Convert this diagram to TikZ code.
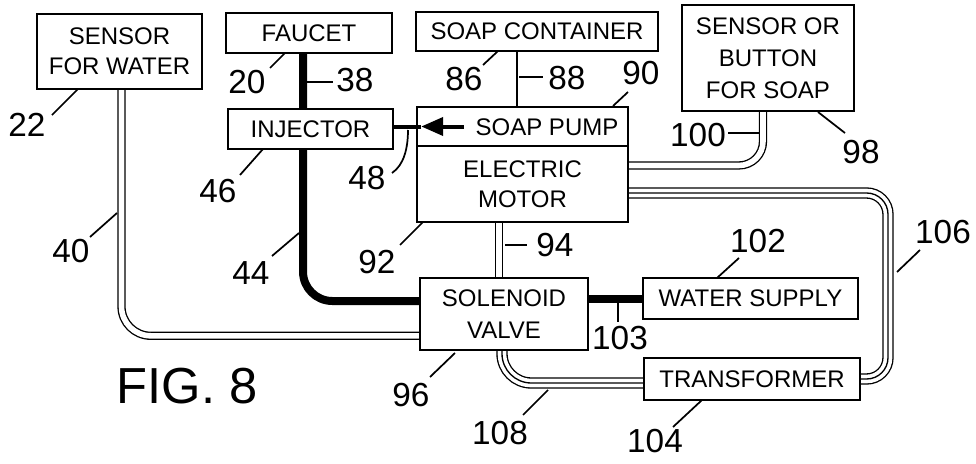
\documentclass[tikz,border=0pt]{standalone}
\usepackage{fontspec}
\setmainfont{Liberation Sans}
\usetikzlibrary{arrows.meta,backgrounds}
\begin{document}
\begin{tikzpicture}[x=0.75pt,y=-0.75pt,
 box/.style={draw, line width=1.2pt, fill=white, inner sep=0pt, align=center, font=\fontsize{18}{22.5}\selectfont},
 num/.style={inner sep=0pt, font=\fontsize{25}{25}\selectfont},
 leader/.style={line width=1.3pt},
 wiretwo/.style={draw=black, line width=1pt, double=white, double distance=4.2pt},
 wirethree/.style={draw=black, line width=8.5pt, postaction={draw=white, line width=6.5pt}, postaction={draw=black, line width=1pt}},
 pipe/.style={line width=6pt},
]
\useasboundingbox (0,0) rectangle (976,464);

% boxes
\node[box, minimum width=123.75pt, minimum height=56.25pt] (sw) at (119.5,51.5) {SENSOR\\FOR WATER};
\node[box, minimum width=124.5pt, minimum height=30pt] (faucet) at (309,33) {FAUCET};
\node[box, minimum width=181.5pt, minimum height=29.25pt] (soapc) at (537,31.5) {SOAP CONTAINER};
\node[box, minimum width=129pt, minimum height=79.5pt, font=\fontsize{18}{24}\selectfont] (sbs) at (768,58) {SENSOR OR\\BUTTON\\FOR SOAP};
\node[box, minimum width=123.75pt, minimum height=30pt] (inj) at (310.5,129) {INJECTOR};
\node[box, minimum width=158.25pt, minimum height=29.25pt] (pump) at (522.5,126.5) {};
\node[inner sep=0pt, font=\fontsize{18}{22.5}\selectfont] (pumptext) at (547,127) {SOAP PUMP};
\node[box, minimum width=158.25pt, minimum height=57pt] (motor) at (522.5,184) {ELECTRIC\\MOTOR};
\node[box, minimum width=126pt, minimum height=54pt, font=\fontsize{18}{24}\selectfont] (valve) at (504,314) {SOLENOID\\VALVE};
\node[box, minimum width=161.25pt, minimum height=30.75pt] (water) at (750.5,298.5) {WATER SUPPLY};
\node[box, minimum width=162pt, minimum height=31.5pt] (trans) at (752,379) {TRANSFORMER};

% connectors behind the boxes
\begin{pgfonlayer}{background}
\draw[wiretwo, rounded corners=22pt] ([xshift=1.5pt]sw.south) |- ([yshift=11.25pt]valve.south west);
\draw[pipe, rounded corners=22pt] ([xshift=-4.5pt]faucet.south) |- ([yshift=9.75pt]valve.west);
\draw[pipe] (valve.east |- water.west) -- (water.west);
\coordinate (w94) at ([xshift=-17.6pt]motor.south);
\draw[wiretwo] (w94) -- (w94 |- valve.north);
\draw[wiretwo, rounded corners=18pt] ([xshift=-3.75pt]sbs.south) |- ([yshift=13.9pt]motor.east);
\coordinate (c106) at (888,280);
\draw[wirethree, rounded corners=16pt] ([yshift=-6.75pt]motor.east) -| (c106) |- (trans.east);
\draw[wirethree, rounded corners=22pt] ([xshift=-1.5pt]valve.south) |- ([yshift=-3pt]trans.west);
\coordinate (s88) at ([xshift=-15pt]soapc.south);
\draw[line width=2.2pt] (s88) -- (s88 |- pump.north);
\end{pgfonlayer}

% arrow soap pump -> injector
\coordinate (atip) at ([xshift=3.75pt]pump.west);
\coordinate (atail) at ([xshift=36pt]pump.west);
\draw[line width=3pt, -{Triangle[length=16.5pt,width=13.5pt]}] (atail) -- (atip);
\draw[line width=3pt] (atip) -- (inj.east |- atip);

% reference numbers
\node[num] (l22) at (27,125) {22};
\draw[leader] (52,115) coordinate (l22a) -- (78,89) coordinate (l22b);
\node[num] (l20) at (247,82) {20};
\draw[leader] (270,68) coordinate (l20a) -- (285,53) coordinate (l20b);
\node[num] (l38) at (355,80) {38};
\draw[leader] (307,82) coordinate (l38a) -- (333,82) coordinate (l38b);
\node[num] (l46) at (218,191) {46};
\draw[leader] (240,175) coordinate (l46a) -- (263,149) coordinate (l46b);
\node[num] (l40) at (71,251) {40};
\draw[leader] (90,237) coordinate (l40a) -- (117,213) coordinate (l40b);
\node[num] (l44) at (251,273) {44};
\draw[leader] (272,256) coordinate (l44a) -- (299,233) coordinate (l44b);
\node[num] (l86) at (464,79) {86};
\draw[leader] (483,65) coordinate (l86a) -- (498,51) coordinate (l86b);
\node[num] (l88) at (567,78) {88};
\draw[leader] (519,77) coordinate (l88a) -- (543,77) coordinate (l88b);
\node[num] (l90) at (641,73) {90};
\draw[leader] (613,106) coordinate (l90a) -- (628,92) coordinate (l90b);
\node[num] (l48) at (367,178) {48};
\draw[leader] (392,173) coordinate (l48a) .. controls (404,165) and (408,148) .. (408,130) coordinate (l48b);
\node[num] (l92) at (377,262) {92};
\draw[leader] (400,245) coordinate (l92a) -- (423,222) coordinate (l92b);
\node[num] (l94) at (555,245) {94};
\draw[leader] (505,245) coordinate (l94a) -- (527,245) coordinate (l94b);
\node[num] (l102) at (758,241) {102};
\draw[leader] (739,258) coordinate (l102a) -- (717,278) coordinate (l102b);
\node[num] (l106) at (943,232) {106};
\draw[leader] (920,250) coordinate (l106a) -- (897,272) coordinate (l106b);
\node[num] (l103) at (620,338) {103};
\draw[leader] (618,303) coordinate (l103a) -- (618,322) coordinate (l103b);
\node[num] (l96) at (411,395) {96};
\draw[leader] (430,377) coordinate (l96a) -- (455,353) coordinate (l96b);
\node[num] (l108) at (500,433) {108};
\draw[leader] (523,415) coordinate (l108a) -- (548,390) coordinate (l108b);
\node[num] (l104) at (655,441) {104};
\draw[leader] (673,427) coordinate (l104a) -- (702,400) coordinate (l104b);
\node[num] (l98) at (861,152) {98};
\draw[leader] (818,112) coordinate (l98a) -- (845,133) coordinate (l98b);
\node[num] (l100) at (698,135) {100};
\draw[leader] (728,133) coordinate (l100a) -- (759,133) coordinate (l100b);

\node[inner sep=0pt, font=\fontsize{38}{38}\selectfont] (fig) at (187,386) {FIG. 8};
\end{tikzpicture}
\end{document}
